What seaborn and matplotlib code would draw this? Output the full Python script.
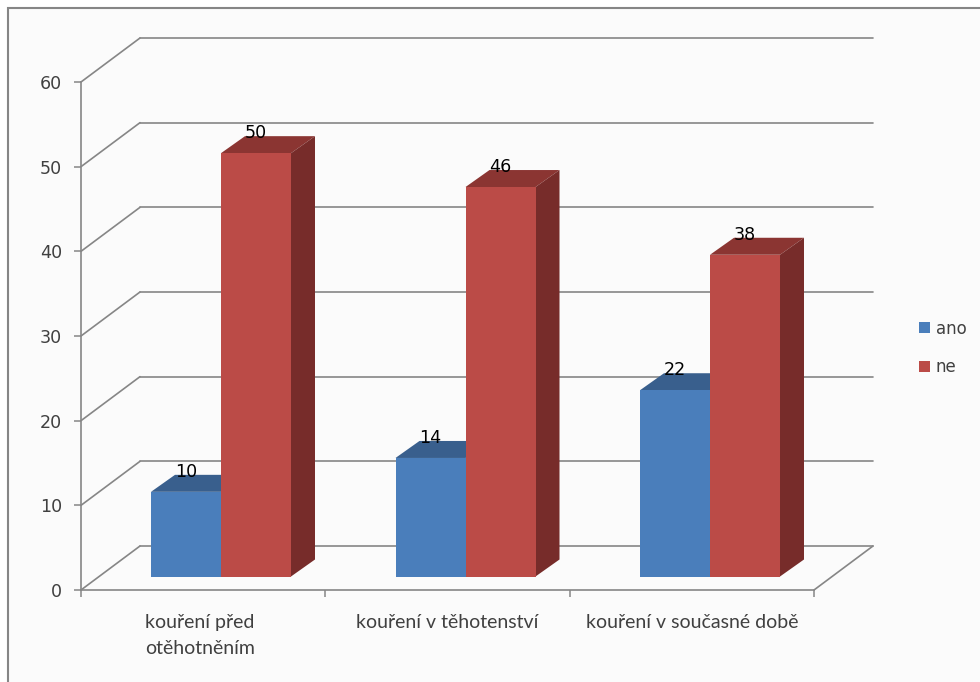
import matplotlib
matplotlib.use("Agg")
import matplotlib.pyplot as plt
import pandas as pd
import seaborn as sns
from matplotlib.lines import Line2D
from matplotlib.patches import Polygon, Rectangle
from matplotlib.transforms import Affine2D, IdentityTransform

categories = ["kouření před\notěhotněním", "kouření v těhotenství", "kouření v současné době"]
ano_values = [10, 14, 22]
ne_values = [50, 46, 38]
series_names = ["ano", "ne"]
value_ticks = [0, 10, 20, 30, 40, 50, 60]

W, H = 980, 682
FRONT_FACE = {"ano": "#4a7ebb", "ne": "#bb4b47"}
TOP_FACE = {"ano": "#395f8d", "ne": "#8b3532"}
SIDE_FACE = {"ano": "#2c4a6e", "ne": "#772c2a"}
LINE = "#868686"
TEXT = "#404040"


def axes_box(left, right, top, bottom):
    """Convert pixel edges (y measured from the top) to figure fractions."""
    return [left / W, (H - bottom) / H, (right - left) / W, (bottom - top) / H]


df = pd.DataFrame({
    "kategorie": categories * 2,
    "odpověď": [series_names[0]] * 3 + [series_names[1]] * 3,
    "počet": ano_values + ne_values,
})

sns.set_style("white")
fig = plt.figure(figsize=(W / 100, H / 100), dpi=100, facecolor="white")

# Panel frame running off the right and bottom edges
fig.add_artist(Rectangle((8 / W, -0.05), 1.1, (H - 8) / H + 0.05, transform=fig.transFigure,
                         facecolor="#fbfbfb", edgecolor=LINE, linewidth=1.5, zorder=-2))

# Front plane of the 3D box: holds the axes, ticks and grid
ax = fig.add_axes(axes_box(81, 814, 82, 590), zorder=0)
ax.patch.set_visible(False)
ax.set_xlim(-0.5, 2.5)
ax.set_ylim(0, 60)
for name in ["top", "right"]:
    ax.spines[name].set_visible(False)
for name in ["left", "bottom"]:
    ax.spines[name].set_color(LINE)
    ax.spines[name].set_linewidth(1.2)

ax.set_yticks(value_ticks)
ax.set_xticks([-0.5, 0.5, 1.5, 2.5])
ax.set_xticklabels([])
ax.set_xticks([0, 1, 2], labels=categories, minor=True)
ax.tick_params(axis="both", which="major", length=5, width=1.1, color=LINE,
               left=True, bottom=True)
ax.tick_params(axis="y", labelsize=12.6, labelcolor=TEXT, pad=8.5)
ax.tick_params(axis="x", which="minor", length=0, pad=17, labelsize=14, labelcolor=TEXT)
for label in ax.get_xticklabels(minor=True):
    label.set_fontfamily("Lato")
    label.set_linespacing(1.7)
    label.set_verticalalignment("top")
# The wrapped first label sits a little left of its category centre
first_label = ax.get_xticklabels(minor=True)[0]
first_label.set_transform(first_label.get_transform() + Affine2D().translate(-3.5, 0))

# Depth of the floor and back wall, in pixels
WALL_DX, WALL_DY = 59, 44
wall = ax.transData + Affine2D().translate(WALL_DX, WALL_DY)
for value in value_ticks:
    ax.plot([-0.5, 2.5], [value, value], color=LINE, lw=1.2, transform=wall, clip_on=False)
    x0, y0 = ax.transData.transform((-0.5, value))
    fig.add_artist(Line2D([x0, x0 + WALL_DX], [y0, y0 + WALL_DY], color=LINE, lw=1.2,
                          transform=IdentityTransform(), zorder=-1))
x1, y1 = ax.transData.transform((2.5, 0))
fig.add_artist(Line2D([x1, x1 + WALL_DX], [y1, y1 + WALL_DY], color=LINE, lw=1.2,
                      transform=IdentityTransform(), zorder=-1))

# Bars stand slightly behind the front plane
bars = fig.add_axes(axes_box(98.75, 832.25, 68.5, 576.5), zorder=1)
sns.barplot(data=df, x="kategorie", y="počet", hue="odpověď", hue_order=series_names,
            palette=FRONT_FACE, width=140 / 244.5, gap=0, saturation=1, linewidth=0,
            ax=bars)
bars.set_xlim(-0.5, 2.5)
bars.set_ylim(0, 60)
bars.axis("off")

handles, labels = bars.get_legend_handles_labels()
bars.get_legend().remove()

# Extruded top and side faces plus the value labels
BAR_DX, BAR_DY = 24, 17
for container, name in zip(bars.containers, series_names):
    for patch, value in zip(container.patches, df.loc[df["odpověď"] == name, "počet"]):
        left, w = patch.get_x(), patch.get_width()
        right = left + w
        (xl, yb), (xr, yt) = bars.transData.transform([(left, 0), (right, value)])
        top_pts = [(xl, yt), (xr, yt), (xr + BAR_DX, yt + BAR_DY), (xl + BAR_DX, yt + BAR_DY)]
        side_pts = [(xr, yb), (xr + BAR_DX, yb + BAR_DY), (xr + BAR_DX, yt + BAR_DY), (xr, yt)]
        z = 3 if name == "ano" else 4
        bars.add_patch(Polygon(top_pts, closed=True, facecolor=TOP_FACE[name], edgecolor="none",
                               transform=IdentityTransform(), zorder=z, clip_on=False))
        bars.add_patch(Polygon(side_pts, closed=True, facecolor=SIDE_FACE[name], edgecolor="none",
                               transform=IdentityTransform(), zorder=z, clip_on=False))
        patch.set_zorder(z + 0.5)
        bars.annotate(str(value), xy=(left + w / 2, value), xytext=(0, 20 * 0.72),
                      textcoords="offset points", ha="center", va="center",
                      fontsize=12.6, color="black", zorder=8, annotation_clip=False)

fig.legend(handles, labels, loc="center left",
           bbox_to_anchor=(915.5 / W, (H - 348) / H), frameon=False,
           fontsize=12, labelcolor=TEXT, handlelength=0.66, handleheight=0.66,
           handletextpad=0.36, labelspacing=1.25, borderpad=0.2, borderaxespad=0)

fig.savefig("out.png", dpi=100)
